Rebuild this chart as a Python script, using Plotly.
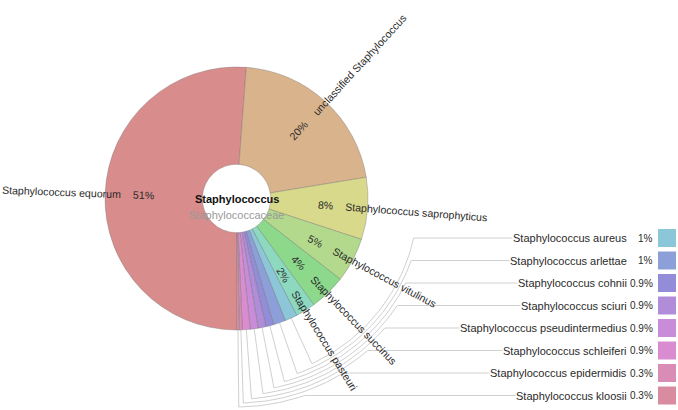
import numpy as np
import plotly.graph_objects as go

# Krona-style view of Staphylococcus reads
root_name = "Staphylococcus"
parent_name = "Staphylococcaceae"

species = ["Staphylococcus equorum", "unclassified Staphylococcus", "Staphylococcus saprophyticus",
           "Staphylococcus vitulinus", "Staphylococcus succinus", "Staphylococcus pasteuri",
           "Staphylococcus aureus", "Staphylococcus arlettae", "Staphylococcus cohnii",
           "Staphylococcus sciuri", "Staphylococcus pseudintermedius", "Staphylococcus schleiferi",
           "Staphylococcus epidermidis", "Staphylococcus kloosii"]
shares = [50.4, 20.9, 7.5, 5.4, 4.4, 2.4, 1.49, 1.48, 0.949, 0.948, 0.947, 0.946, 0.349, 0.348]
pct_labels = ["51%", "20%", "8%", "5%", "4%", "2%", "1%", "1%",
              "0.9%", "0.9%", "0.9%", "0.9%", "0.3%", "0.3%"]

colors = ["hsl(0,50%,70%)", "hsl(30,50%,70%)", "hsl(60,50%,70%)", "hsl(90,50%,70%)",
          "hsl(120,50%,70%)", "hsl(160,50%,70%)", "hsl(195,50%,70%)", "hsl(225,50%,70%)",
          "hsl(245,50%,70%)", "hsl(268,50%,70%)", "hsl(288,50%,70%)", "hsl(308,50%,70%)",
          "hsl(328,50%,70%)", "hsl(345,50%,70%)"]

W, H = 678, 410
CX, CY, R = 236.5, 198.5, 131.5
n_inside = 6
font = "Arial, Liberation Sans, sans-serif"
txt = "#2a2a2a"
fs_in = 10.6

# rough Arial advance widths (per em) to place rotated labels
AW = dict(a=.556, b=.556, c=.5, d=.556, e=.556, f=.278, h=.556, i=.222, k=.5, l=.222, m=.833,
          n=.556, o=.556, p=.556, q=.556, r=.333, s=.5, t=.278, u=.556, v=.5, y=.5, S=.667)
AW.update({" ": .278, ".": .278, "%": .889})


def text_w(s, size):
    return sum(AW.get(c, .556) for c in s) * size


vals = np.array(shares)
frac = vals / vals.sum()
ends = np.cumsum(frac) * 360
starts = ends - frac * 360
mids = (180 + (starts + ends) / 2) % 360


def pt(theta, r):
    a = np.radians(theta)
    return CX + r * np.sin(a), CY - r * np.cos(a)


fig = go.Figure()

fig.add_trace(go.Pie(
    values=shares, labels=species, sort=False, direction="clockwise", rotation=180,
    hole=0.26, textinfo="none", hoverinfo="label+percent",
    marker=dict(colors=colors, line=dict(color="rgba(110,110,110,0.45)", width=0.8)),
    domain=dict(x=[(CX - R) / W, (CX + R) / W], y=[1 - (CY + R) / H, 1 - (CY - R) / H]),
))

annotations = []

# labels drawn along the slices
for i in range(n_inside):
    th = mids[i]
    ang = th - 90 if th < 180 else th - 270
    pw = text_w(pct_labels[i], fs_in)
    x, y = pt(th, 82 + pw / 2)
    annotations.append(dict(x=x, y=y, text=pct_labels[i], textangle=ang, showarrow=False,
                            xanchor="center", yanchor="middle", font=dict(size=fs_in, color=txt)))
    nw = text_w(species[i], fs_in)
    x, y = pt(th, 82 + pw + 12 + nw / 2)
    annotations.append(dict(x=x, y=y, text=species[i], textangle=ang, showarrow=False,
                            xanchor="center", yanchor="middle", font=dict(size=fs_in, color=txt)))

# leader lines and key for the small slices
lx, ly = [], []
shapes = []
for k, i in enumerate(range(n_inside, len(species))):
    r_arc = 181.5 + 3.85 * k
    y_lab = 238 + 22.5 * k
    th_end = np.degrees(np.arccos(-(y_lab - CY) / r_arc))
    x0, y0 = pt(mids[i], R)
    lx.append(x0)
    ly.append(y0)
    for t in np.linspace(mids[i], th_end, 40):
        x, y = pt(t, r_arc)
        lx.append(x)
        ly.append(y)
    lx += [620, None]
    ly += [y_lab, None]
    annotations.append(dict(x=628, y=y_lab, text=species[i], showarrow=False, xanchor="right",
                            yanchor="middle", bgcolor="white", borderpad=0,
                            font=dict(size=11, color=txt)))
    annotations.append(dict(x=655, y=y_lab, text=pct_labels[i], showarrow=False, xanchor="right",
                            yanchor="middle", font=dict(size=10, color=txt)))
    shapes.append(dict(type="rect", x0=658, x1=676, y0=y_lab - 9, y1=y_lab + 9,
                       fillcolor=colors[i], line=dict(width=0), layer="above"))

fig.add_trace(go.Scatter(x=lx, y=ly, mode="lines", line=dict(color="rgb(208,208,208)", width=1),
                         hoverinfo="skip", showlegend=False))

# centre labels
annotations.append(dict(x=CX, y=CY, text="<b>" + root_name + "</b>", showarrow=False,
                        font=dict(size=11, color="#111")))
annotations.append(dict(x=CX, y=CY + 16, text=parent_name, showarrow=False,
                        font=dict(size=11, color="#9a9a9a")))

fig.update_layout(
    width=W, height=H, margin=dict(l=0, r=0, t=0, b=0),
    paper_bgcolor="white", plot_bgcolor="white", showlegend=False,
    font=dict(family=font),
    xaxis=dict(range=[0, W], visible=False, fixedrange=True),
    yaxis=dict(range=[H, 0], visible=False, fixedrange=True),
    annotations=annotations, shapes=shapes,
)

# drop the page's default body margin so the figure sits at the window corner
fig.write_html("out.html", config={"displayModeBar": False},
               post_script="document.body.style.margin='0px';")
